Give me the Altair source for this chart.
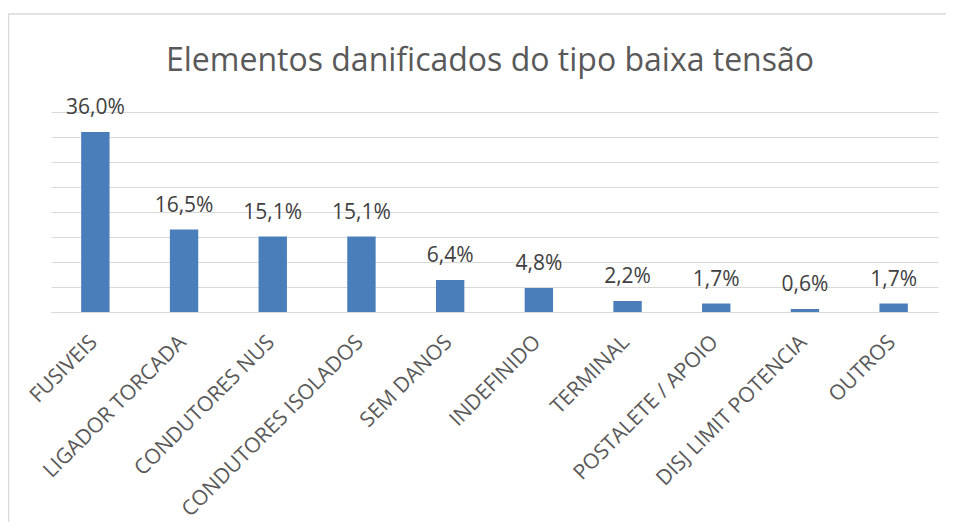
import altair as alt
import pandas as pd

categories = ["FUSIVEIS", "LIGADOR TORCADA", "CONDUTORES NUS", "CONDUTORES ISOLADOS",
              "SEM DANOS", "INDEFINIDO", "TERMINAL", "POSTALETE / APOIO",
              "DISJ LIMIT POTENCIA", "OUTROS"]
values = [36.0, 16.5, 15.1, 15.1, 6.4, 4.8, 2.2, 1.7, 0.6, 1.7]
labels = ["36,0%", "16,5%", "15,1%", "15,1%", "6,4%", "4,8%", "2,2%", "1,7%", "0,6%", "1,7%"]
grid_values = [0, 5, 10, 15, 20, 25, 30, 35, 40]
title_text = "Elementos danificados do tipo baixa tensão"

df = pd.DataFrame({"cat": categories, "val": values, "lab": labels})

FONT = "Open Sans"
W, H = 887, 200

x_enc = alt.X("cat:N", sort=categories, title=None,
              scale=alt.Scale(paddingInner=0.68, paddingOuter=0.34),
              axis=alt.Axis(labelAngle=-45, labelFont=FONT, labelFontSize=21,
                            labelColor="#595959", ticks=False, domainColor="#d9d9d9",
                            grid=False, labelLimit=0, labelOffset=-9,
                            labelPadding=19, labelAlign="right", labelBaseline="top"))
y_enc = alt.Y("val:Q", title=None,
              scale=alt.Scale(domain=[0, 40], nice=False),
              axis=alt.Axis(values=grid_values, labels=False, grid=True,
                            ticks=False, domain=False, gridColor="#d9d9d9"))

bars = alt.Chart(df).mark_bar(color="#4a7ebb").encode(x=x_enc, y=y_enc)
text = alt.Chart(df).mark_text(font=FONT, fontSize=21, color="#404040",
                               baseline="alphabetic", dy=-18).encode(
    x=x_enc, y=y_enc, text="lab:N")

frame = alt.Chart(pd.DataFrame({"a": [0]})).mark_rect(
    fill=None, stroke="#d9d9d9", strokeWidth=1.5).encode(
    x=alt.value(-42.5), x2=alt.value(W + 40), y=alt.value(-98), y2=alt.value(H + 250))

title = alt.Chart(pd.DataFrame({"t": [title_text]})).mark_text(
    font=FONT, fontSize=32, color="#595959", align="center", baseline="alphabetic").encode(
    x=alt.value(439), y=alt.value(-41), text="t:N")

chart = alt.layer(frame, bars, text, title).properties(
    width=W, height=H,
    autosize=alt.AutoSizeParams(type="none"),
    padding={"left": 43, "top": 104, "right": 8, "bottom": 210},
).configure_view(stroke=None)

chart.save("out.html", embed_options={"renderer": "svg", "actions": False})
